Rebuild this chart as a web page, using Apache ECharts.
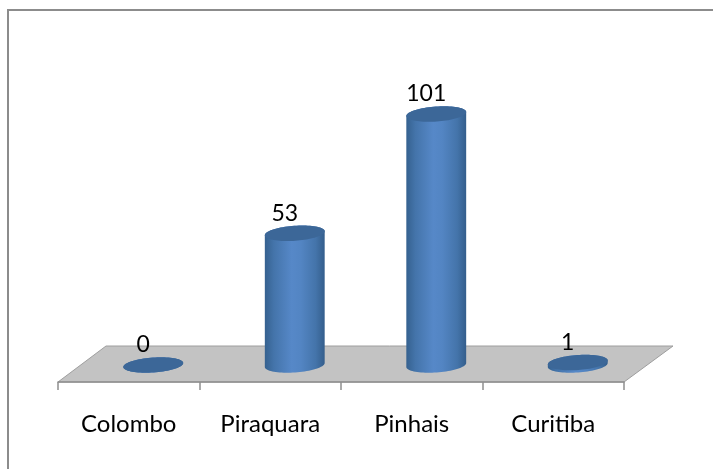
<!DOCTYPE html>
<html><head><meta charset="utf-8">
<style>html,body{margin:0;padding:0;background:#fff}#c{width:713px;height:469px}</style>
<script src="https://cdn.jsdelivr.net/npm/echarts@6/dist/echarts.min.js"></script>
</head><body><div id="c"></div>
<script>
const categories = ['Colombo', 'Piraquara', 'Pinhais', 'Curitiba'];
const values = [0, 53, 101, 1];
const FONT = 'Lato, "Open Sans", sans-serif';
const chart = echarts.init(document.getElementById('c'), null, {renderer: 'canvas'});
const RX = 30, RY = 7.5, TILT = -4 * Math.PI / 180;
function ell(cx, cy, t) {
  const x = RX * Math.cos(t), y = RY * Math.sin(t);
  return [cx + x * Math.cos(TILT) - y * Math.sin(TILT), cy + x * Math.sin(TILT) + y * Math.cos(TILT)];
}
const bodyFill = new echarts.graphic.LinearGradient(0, 0, 1, 0, [
  {offset: 0, color: '#35618f'}, {offset: .15, color: '#4474aa'}, {offset: .45, color: '#5688c8'},
  {offset: .6, color: '#5385c3'}, {offset: .85, color: '#4474aa'}, {offset: 1, color: '#345e8c'}]);
chart.setOption({
  animation: false,
  backgroundColor: '#fff',
  graphic: [
    {type: 'line', shape: {x1: 7, y1: 10, x2: 713, y2: 10}, style: {stroke: '#8c8c8c', lineWidth: 2}},
    {type: 'line', shape: {x1: 8, y1: 9, x2: 8, y2: 469}, style: {stroke: '#8c8c8c', lineWidth: 2}}
  ],
  grid: {left: 58, width: 566, top: 65.8, height: 298.2},
  xAxis: {type: 'category', data: categories, offset: 18, boundaryGap: true, z: 5,
    axisLine: {onZero: false, lineStyle: {color: '#8e8e8e', width: 1.5}},
    axisTick: {show: true, length: 8, alignWithLabel: false, lineStyle: {color: '#8e8e8e', width: 1.5}},
    axisLabel: {color: '#000', fontFamily: FONT, fontSize: 24, margin: 30, interval: 0}},
  yAxis: {type: 'value', min: 0, max: 120, show: false},
  series: [
    {type: 'custom', coordinateSystem: 'cartesian2d', data: [[0, 0]], z: 1, silent: true,
      renderItem(params, api) {
        const o = api.coord([0, 0]);
        const L = params.coordSys.x, R = L + params.coordSys.width;
        return {type: 'polygon', shape: {points: [[L, o[1] + 18], [R, o[1] + 18], [R + 49, o[1] - 18], [L + 48, o[1] - 18]]},
          style: {fill: '#c3c3c3', stroke: '#9e9e9e', lineWidth: 1}};
      }},
    {type: 'custom', coordinateSystem: 'cartesian2d', z: 2, silent: true,
      data: values.map((v, i) => [i, v]),
      renderItem(params, api) {
        const i = api.value(0), v = api.value(1);
        const b = api.coord([i, 0]), t = api.coord([i, v]);
        const cx = b[0] + 24.5, cy0 = b[1] + 1, cy1 = t[1] + 1;
        const pts = [];
        for (let k = 0; k <= 40; k++) pts.push(ell(cx, cy1, Math.PI * (1 + k / 40)));
        for (let k = 0; k <= 40; k++) pts.push(ell(cx, cy0, Math.PI * k / 40));
        const top = [];
        for (let k = 0; k < 80; k++) top.push(ell(cx, cy1, Math.PI * k / 40));
        return {type: 'group', children: [
          {type: 'polygon', shape: {points: pts}, style: {fill: bodyFill}},
          {type: 'polygon', shape: {points: top}, style: {fill: '#3c6798'}},
          {type: 'text', style: {text: String(v), x: cx - 10, y: cy1 - 20, align: 'center', verticalAlign: 'middle',
            fill: '#000', font: '23px ' + FONT}}
        ]};
      }}
  ]
});
</script></body></html>
